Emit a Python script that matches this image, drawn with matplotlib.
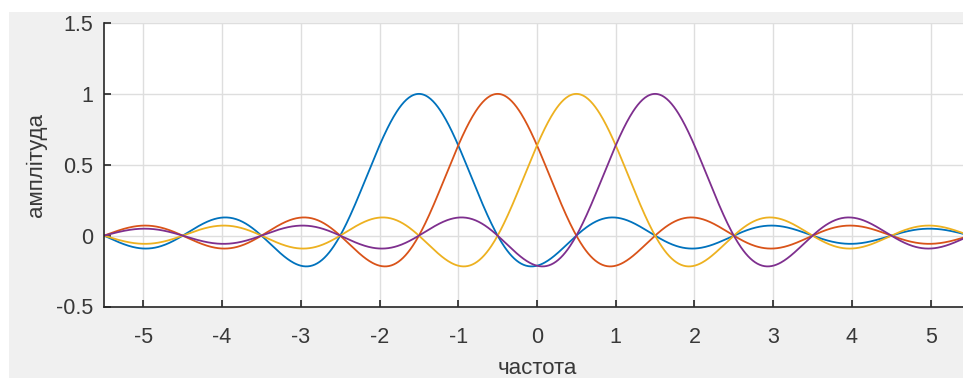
import numpy as np
import matplotlib
matplotlib.use('Agg')
import matplotlib.pyplot as plt
from matplotlib.patches import Rectangle

# центри імпульсів sinc (частота зсуву)
centers = [-1.5, -0.5, 0.5, 1.5]
colors = ['#0072BD', '#D95319', '#EDB120', '#7E2F8E']
x_ticks = [-5, -4, -3, -2, -1, 0, 1, 2, 3, 4, 5]
y_ticks = [-0.5, 0, 0.5, 1, 1.5]
freq = np.linspace(-5.5, 5.5, 1101)

plt.rcParams['font.family'] = ['Liberation Sans', 'DejaVu Sans']

W, H = 963, 378
fig = plt.figure(figsize=(W / 100, H / 100), dpi=100, facecolor='white')
# сірий фон вікна
fig.patches.append(Rectangle((9 / W, 0), 1, 1 - 12 / H, transform=fig.transFigure,
                             facecolor='#f0f0f0', edgecolor='none', zorder=-10))

left, right, top, bottom = 104, 970, 23, 306.5
ax = fig.add_axes([left / W, 1 - bottom / H, (right - left) / W, (bottom - top) / H])
ax.set_facecolor('white')

for c, col in zip(centers, colors):
    ax.plot(freq, np.sinc(freq - c), color=col, linewidth=1.3)

ax.set_xlim(-5.5, 5.5)
ax.set_ylim(-0.5, 1.5)
ax.set_xticks(x_ticks)
ax.set_yticks(y_ticks)
ax.set_xticklabels([str(t) for t in x_ticks])
ax.set_yticklabels(['-0.5', '0', '0.5', '1', '1.5'])
ax.grid(True, color='#dedede', linewidth=1)
ax.set_axisbelow(True)
for s in ['top', 'right']:
    ax.spines[s].set_visible(False)
for s in ['left', 'bottom']:
    ax.spines[s].set_color('#262626')
    ax.spines[s].set_linewidth(1.2)
ax.tick_params(direction='in', length=5, width=1.2, color='#262626',
               labelsize=15.5, labelcolor='#383838')
ax.tick_params(axis='x', pad=15)
ax.tick_params(axis='y', pad=8)
ax.set_xlabel('частота', fontsize=16, color='#383838', labelpad=7)
ax.set_ylabel('амплітуда', fontsize=16, color='#383838', labelpad=6)

fig.savefig('out.png', dpi=100, facecolor=fig.get_facecolor())
